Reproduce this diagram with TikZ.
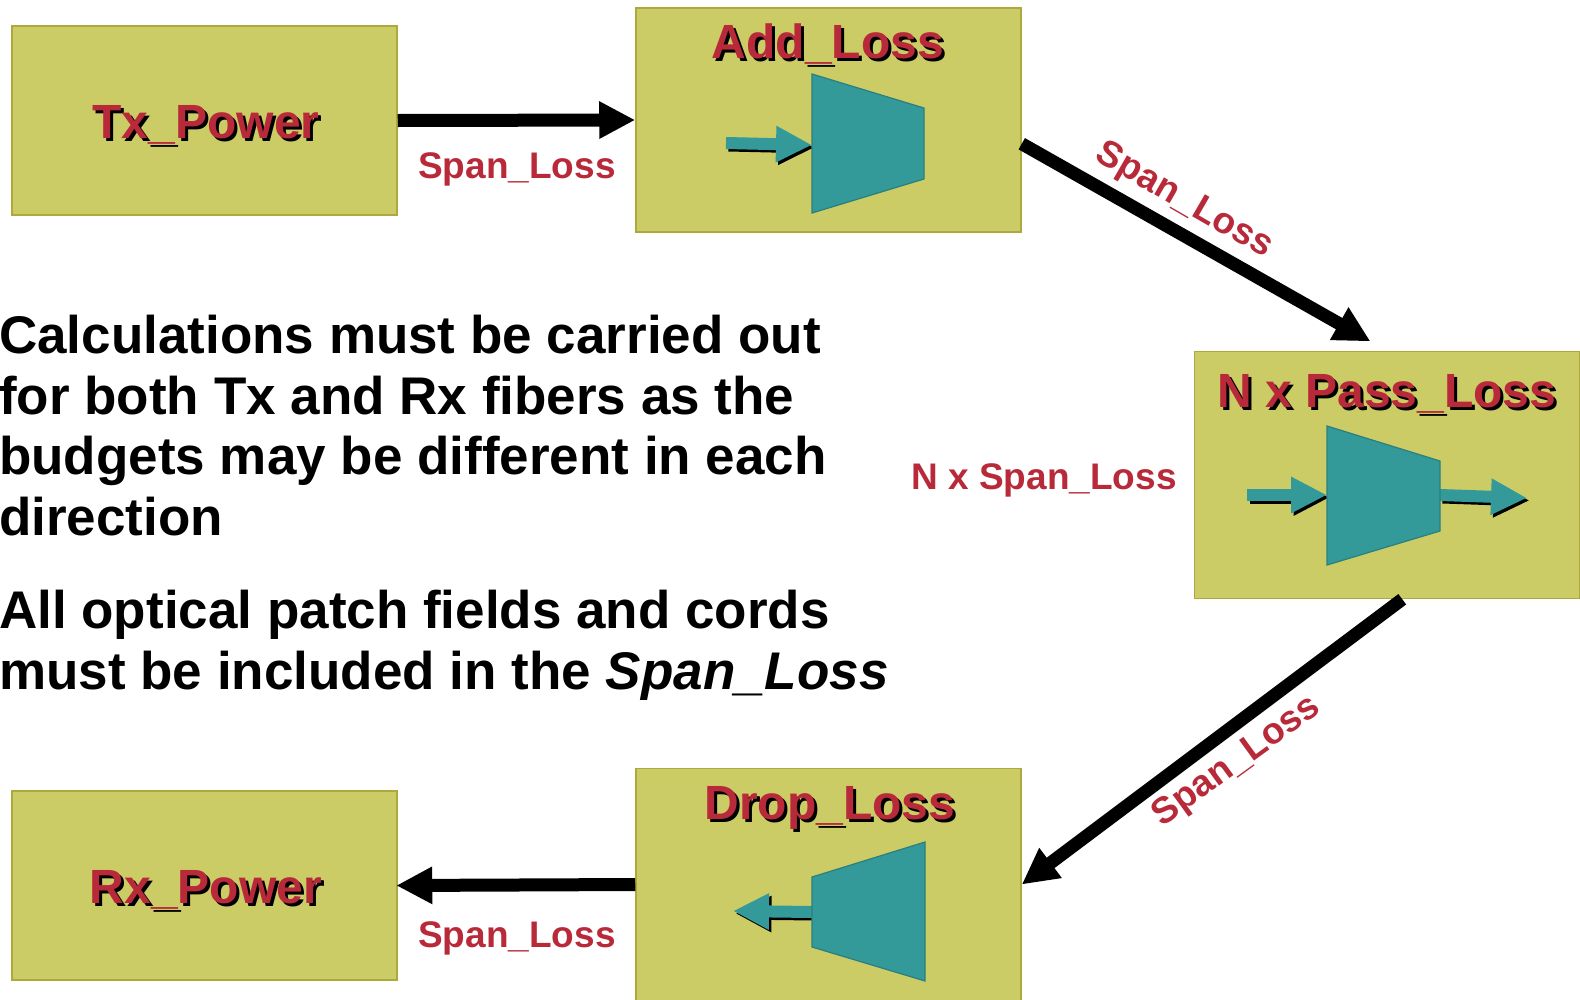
\documentclass[tikz,border=0pt]{standalone}
\usepackage{fontspec}
\setmainfont{Liberation Sans}
\usetikzlibrary{arrows.meta}

\definecolor{boxolive}{HTML}{CBCC66}
\definecolor{boxedge}{HTML}{ADA93C}
\definecolor{muxteal}{HTML}{339999}
\definecolor{muxedge}{HTML}{2A7F80}
\definecolor{lossred}{HTML}{B82A3A}

\tikzset{
  lossbox/.style = {draw=boxedge, fill=boxolive, line width=1.5pt, inner sep=0pt, minimum width=385pt},
  mux/.style = {draw=muxedge, fill=muxteal, line width=1.2pt, line join=miter},
  bigarrow/.style = {line width=13pt, -{Triangle[length=36pt,width=35pt]}},
  smallarrow/.style = {line width=12pt, -{Triangle[length=36pt,width=34pt]}},
  boxtitle/.style = {anchor=base, inner sep=0pt, font=\fontsize{48}{48}\selectfont\bfseries},
  spanlabel/.style = {text=lossred, inner sep=0pt, font=\fontsize{37}{37}\selectfont\bfseries},
  note/.style = {anchor=north west, align=left, inner sep=0pt, font=\fontsize{53}{60.5}\selectfont\bfseries}
}

% title with its black offset copy
\newcommand{\lossname}[4]{
  \node[boxtitle, text=black] (#1shadow) at (#2+3,#3+3) {#4};
  \node[boxtitle, text=lossred] (#1) at (#2,#3) {#4};
}
% teal arrow with its black offset copy
\newcommand{\teal}[3]{
  \path[smallarrow, black, transform canvas={xshift=2.5pt,yshift=-2.5pt}] (#2) edge (#3);
  \path[smallarrow, muxteal] (#2) edge (#3);
}

\begin{document}
\begin{tikzpicture}[x=1pt, y=-1pt]
\useasboundingbox (0,0) rectangle (1580,999);

\node[lossbox, minimum height=189pt] (tx) at (204.5,120.5) {};
\node[lossbox, minimum height=224pt] (add) at (828.5,120) {};
\node[lossbox, minimum height=247pt] (npass) at (1387,475) {};
\node[lossbox, minimum height=232pt] (drop) at (828.5,884.5) {};
\node[lossbox, minimum height=189pt] (rx) at (204.5,885.5) {};

\lossname{txname}{206}{138}{Tx\_Power}
\lossname{addname}{828}{58}{Add\_Loss}
\lossname{npassname}{1387}{407}{N x Pass\_Loss}
\lossname{dropname}{830}{819}{Drop\_Loss}
\lossname{rxname}{206}{903}{Rx\_Power}

\path[bigarrow] (tx.east) edge (add.west)
        (add.353) edge[shorten >=19pt] (npass.north)
        (npass.277) edge (drop.east)
        (drop.west) edge[shorten >=-1.5pt] (rx.east);

\node[spanlabel] (span1) at (517,169.5) {Span\_Loss};
\node[spanlabel, rotate=-30] (span2) at (1184,201) {Span\_Loss};
\node[spanlabel] (nspan) at (1044,480) {N x Span\_Loss};
\node[spanlabel, rotate=36] (span3) at (1237,762) {Span\_Loss};
\node[spanlabel] (span4) at (517,938) {Span\_Loss};

% add
\coordinate (addin) at (726,143);
\coordinate (addport) at (812,145);
\teal{addarrow}{addin}{addport}
\draw[mux] (812,74) -- (924,108) -- (924,179) -- (812,213) -- cycle;

% pass
\coordinate (passin) at (1247,495);
\coordinate (passinport) at (1327,495);
\coordinate (passoutport) at (1440,495);
\coordinate (passout) at (1527,498);
\teal{passinarrow}{passin}{passinport}
\teal{passoutarrow}{passoutport}{passout}
\draw[mux] (1327,426) -- (1440,461) -- (1440,531) -- (1327,565) -- cycle;

% drop
\coordinate (dropport) at (812,912);
\coordinate (dropout) at (733,911);
\teal{droparrow}{dropport}{dropout}
\draw[mux] (812,877) -- (925,842) -- (925,981) -- (812,947) -- cycle;

\node[note] (calcnote) at (-1,315) {Calculations must be carried out\\for both Tx and Rx fibers as the\\budgets may be different in each\\direction};
\node[note] (patchnote) at (-1,590) {All optical patch fields and cords\\must be included in the \textit{Span\_Loss}};
\end{tikzpicture}
\end{document}
